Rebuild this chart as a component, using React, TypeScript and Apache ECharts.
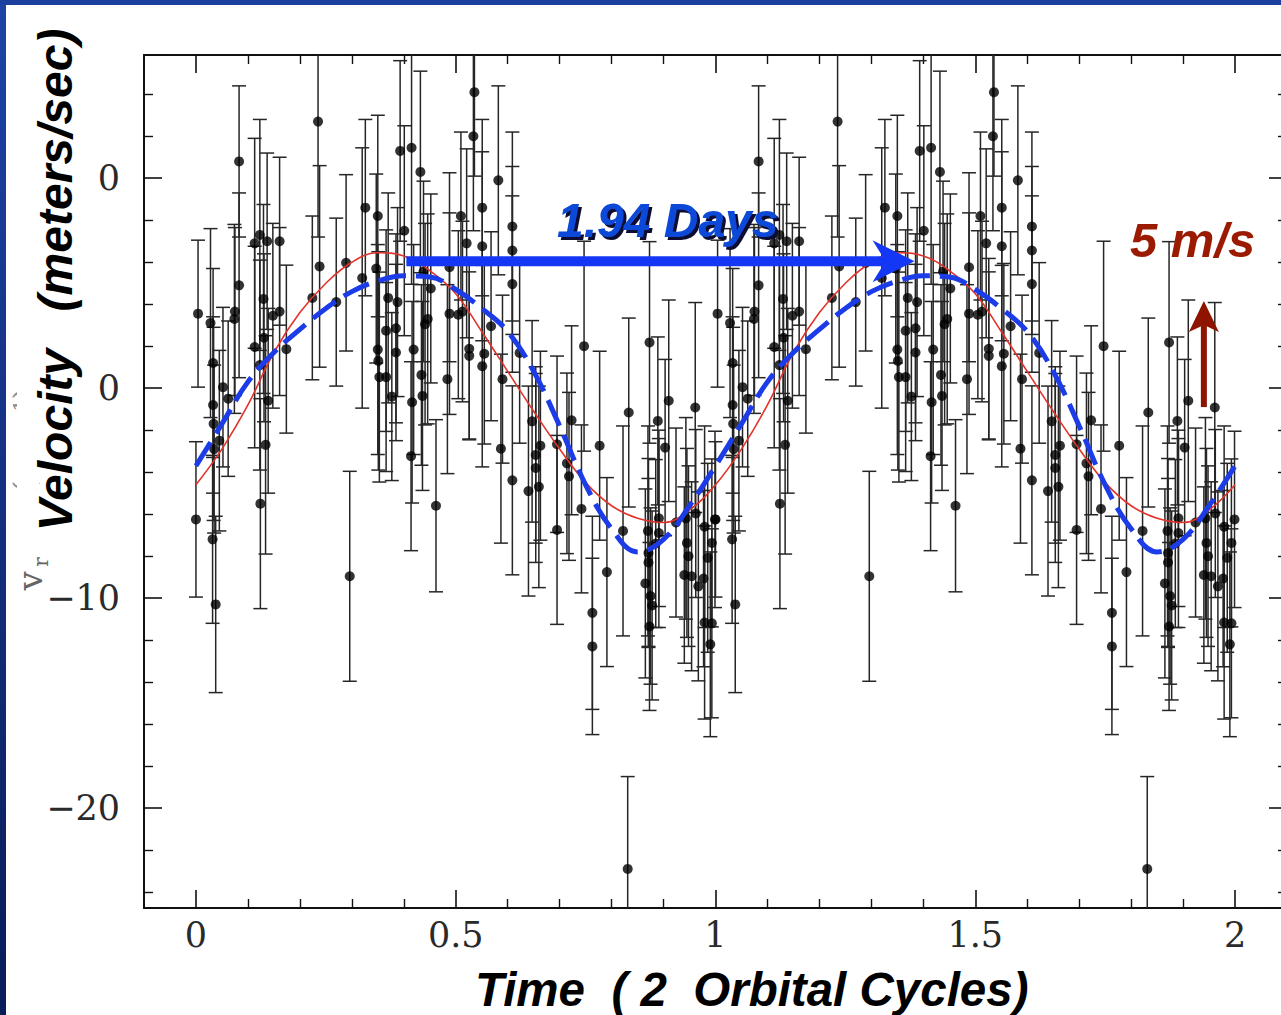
import React, { useEffect, useRef } from "react";
import * as echarts from "echarts";

// ---- axis ranges & tick labels ----
const X_MIN = -0.1;
const X_MAX = 2.1;
const Y_MIN = -24.76;
const Y_MAX = 15.87;
const xTickValues = [0, 0.5, 1, 1.5, 2];
const xTickLabels = ["0", "0.5", "1", "1.5", "2"];
const yTickValues = [-20, -10, 0, 10];
const yTickLabels = ["\u221220", "\u221210", "0", "0"];

// ---- phase-folded radial velocity measurements (one orbital cycle, plotted twice) ----
const cycles = [0, 1];
const phaseT = [
  0.0, 0.004, 0.028, 0.032, 0.033, 0.033, 0.034, 0.035, 0.038, 0.045, 0.052, 0.062, 0.074, 0.075, 0.083, 0.083,
  0.113, 0.113, 0.123, 0.123, 0.124, 0.13, 0.131, 0.134, 0.139, 0.137, 0.148, 0.161, 0.161, 0.174, 0.224, 0.235,
  0.238, 0.27, 0.289, 0.296, 0.32, 0.326, 0.347, 0.35, 0.35, 0.351, 0.353, 0.366, 0.366, 0.37, 0.377, 0.385,
  0.385, 0.388, 0.393, 0.401, 0.415, 0.419, 0.416, 0.414, 0.432, 0.434, 0.436, 0.441, 0.446, 0.452, 0.438, 0.462,
  0.484, 0.488, 0.488, 0.505, 0.51, 0.513, 0.521, 0.526, 0.526, 0.534, 0.536, 0.551, 0.551, 0.551, 0.555, 0.568,
  0.582, 0.587, 0.59, 0.609, 0.609, 0.609, 0.609, 0.623, 0.64, 0.647, 0.654, 0.654, 0.66, 0.663, 0.695, 0.695,
  0.714, 0.718, 0.723, 0.742, 0.747, 0.763, 0.763, 0.777, 0.791, 0.822, 0.831, 0.833, 0.865, 0.87, 0.871, 0.871,
  0.873, 0.873, 0.875, 0.878, 0.885, 0.889, 0.891, 0.891, 0.903, 0.91, 0.924, 0.94, 0.943, 0.945, 0.948, 0.954,
  0.961, 0.962, 0.967, 0.977, 0.979, 0.979, 0.985, 0.99, 0.993, 0.993, 0.999,
];
const phaseV = [
  -6.25, 3.55, 3.1, -7.2, 1.2, -0.8, -1.7, -2.9, -10.3, -2.5, 0.05, -0.5, 3.3, 3.65, 4.9, 10.8,
  6.9, 1.96, 7.3, 1.1, -5.5, 4.25, 2.4, -2.7, -0.6, 7.0, 3.45, 7.0, 3.65, 1.86, 4.3, 12.7,
  5.8, 4.1, 5.97, -8.96, 5.25, 8.6, 5.7, 8.2, 1.84, 1.3, 0.53, 0.53, 2.74, 4.3, -0.4, 2.85,
  1.7, 4.1, 11.3, 7.5, 11.45, 1.84, -0.67, -3.24, 10.3, 0.63, -0.37, 3.05, 3.3, 4.75, 5.56, -5.6,
  0.43, 3.55, 5.76, 3.5, 8.2, 3.65, 6.9, 1.54, 1.88, 12.0, 14.1, 8.6, 6.76, 1.05, 1.64, 2.95,
  9.9, -2.88, 0.43, 7.7, 6.56, 4.96, -4.39, 1.68, -4.9, -1.58, -3.18, -3.8, -4.7, -2.74, -6.75, -2.67,
  -3.58, -4.2, -1.53, -5.75, 2.0, -10.7, -12.3, -2.74, -8.76, -6.8, -22.9, -1.16, -9.3, -6.8, -7.85, -8.3,
  2.18, -11.35, -9.9, -10.35, -7.4, -1.56, -6.9, -6.2, -2.83, -0.6, -6.4, -8.9, -6.2, -7.37, -8.0, -8.96,
  -0.92, -5.97, -9.44, -9.07, -6.6, -11.16, -8.08, -12.2, -7.37, -11.2, -6.25,
];
const phaseErr = [
  3.7, 3.5, 4.5, 4.0, 4.5, 4.2, 4.6, 4.0, 4.2, 4.3, 3.8, 3.7, 4.5, 4.0, 4.4, 3.6,
  5.0, 4.8, 5.5, 5.0, 5.0, 4.5, 4.0, 5.2, 4.4, 4.2, 4.4, 4.0, 4.0, 4.0, 3.9, 5.5,
  4.8, 4.0, 4.2, 5.0, 6.2, 4.2, 4.5, 4.8, 5.0, 5.2, 5.0, 4.5, 4.8, 5.0, 4.0, 4.5,
  4.2, 4.5, 4.3, 5.0, 6.5, 5.0, 4.8, 4.5, 4.8, 4.3, 4.5, 4.8, 5.0, 4.5, 4.3, 4.1,
  4.5, 4.8, 4.5, 4.0, 4.0, 4.3, 4.5, 4.0, 4.3, 4.5, 4.0, 4.2, 4.5, 4.8, 4.3, 4.5,
  4.5, 4.5, 4.0, 4.5, 4.0, 4.2, 4.5, 4.3, 5.0, 4.8, 4.2, 4.5, 4.8, 4.5, 4.5, 4.2,
  4.3, 4.0, 4.5, 4.0, 5.0, 4.6, 4.2, 4.5, 4.5, 5.0, 4.4, 4.5, 4.5, 5.0, 4.5, 4.0,
  4.8, 4.0, 4.2, 4.5, 4.0, 4.0, 4.5, 4.2, 4.2, 4.8, 4.5, 4.2, 4.8, 4.5, 4.3, 4.5,
  5.0, 4.0, 4.5, 4.2, 4.8, 4.6, 4.5, 4.4, 4.0, 4.5, 4.2,
];

// ---- model curves (one cycle) ----
const curveT = [0, 0.05, 0.1, 0.15, 0.2, 0.25, 0.3, 0.35, 0.4, 0.45, 0.5, 0.55, 0.6, 0.65, 0.7, 0.75, 0.8, 0.85, 0.9, 0.95, 1.0];
const redFit = [-4.6, -2.9, -0.8, 1.7, 3.6, 5.0, 6.0, 6.45, 6.3, 5.6, 4.5, 2.7, 0.8, -1.1, -2.9, -4.5, -5.6, -6.2, -6.4, -5.8, -4.6];
const blueFit = [-3.7, -1.7, 0.3, 1.7, 2.8, 3.8, 4.6, 5.1, 5.35, 5.3, 4.7, 3.8, 2.7, 0.8, -1.8, -4.6, -6.7, -7.8, -7.2, -5.6, -3.7];

// ---- annotations (data coordinates) ----
const periodArrow = { t0: 0.405, t1: 1.383, v: 6.05, label: "1.94 Days" };
const scaleArrow = { t: 1.94, v0: -0.9, v1: 4.15, label: "5 m/s" };

const fmt = (vals: number[], labels: string[]) => (v: number) => {
  const i = vals.findIndex((x) => Math.abs(x - v) < 1e-6);
  return i >= 0 ? labels[i] : "";
};

export default function App() {
  const ref = useRef<HTMLDivElement>(null);
  useEffect(() => {
    const chart = echarts.init(ref.current!, null, { renderer: "svg" });

    const points: number[][] = [];
    cycles.forEach((c) => {
      phaseT.forEach((t, i) => points.push([t + c, phaseV[i], phaseErr[i]]));
    });
    const curve = (fit: number[]) => {
      const out: number[][] = [];
      cycles.forEach((c) => {
        curveT.forEach((t, i) => {
          if (c > 0 && i === 0) return;
          out.push([t + c, fit[i]]);
        });
      });
      return out;
    };

    const axisCommon: any = {
      type: "value",
      splitLine: { show: false },
      minorSplitLine: { show: false },
      axisLine: { show: true, onZero: false, lineStyle: { color: "#111", width: 2 } },
      axisTick: { show: true, inside: true, length: 18, lineStyle: { color: "#111", width: 1.6 } },
      minorTick: { show: true, splitNumber: 5, length: 9, lineStyle: { color: "#111", width: 1.4 } },
    };
    const xCommon = { ...axisCommon, min: X_MIN, max: X_MAX, minInterval: 0.5, maxInterval: 0.5, splitNumber: 4 };
    const yCommon = { ...axisCommon, min: Y_MIN, max: Y_MAX, minInterval: 10, maxInterval: 10, splitNumber: 4 };
    const labelStyle = { fontFamily: "DejaVu Serif", fontSize: 35, color: "#2a2a2a" };

    const option: any = {
      animation: false,
      backgroundColor: "#ffffff",
      grid: { left: 144, top: 55, right: 0, bottom: 107, containLabel: false },
      xAxis: [
        { ...xCommon, position: "bottom", axisLabel: { ...labelStyle, margin: 9, formatter: fmt(xTickValues, xTickLabels) } },
        { ...xCommon, position: "top", axisLabel: { show: false } },
      ],
      yAxis: [
        { ...yCommon, position: "left", axisLabel: { ...labelStyle, margin: 24, formatter: fmt(yTickValues, yTickLabels) } },
        { ...yCommon, position: "right", axisLabel: { show: false } },
      ],
      series: [
        {
          type: "custom",
          xAxisIndex: 0,
          yAxisIndex: 0,
          data: points,
          encode: { x: 0, y: 1 },
          renderItem: (params: any, api: any) => {
            const x = api.value(0);
            const y = api.value(1);
            const e = api.value(2);
            const hiV = Math.min(y + e, Y_MAX);
            const loV = Math.max(y - e, Y_MIN);
            const top = api.coord([x, hiV]);
            const bot = api.coord([x, loV]);
            const st = { stroke: "#262626", lineWidth: 1.5 };
            const hw = 7;
            const children: any[] = [
              { type: "line", shape: { x1: top[0], y1: top[1], x2: bot[0], y2: bot[1] }, style: st },
            ];
            if (y + e < Y_MAX)
              children.push({ type: "line", shape: { x1: top[0] - hw, y1: top[1], x2: top[0] + hw, y2: top[1] }, style: st });
            if (y - e > Y_MIN)
              children.push({ type: "line", shape: { x1: bot[0] - hw, y1: bot[1], x2: bot[0] + hw, y2: bot[1] }, style: st });
            return { type: "group", children };
          },
          z: 2,
        },
        {
          type: "scatter",
          data: points.map((p) => [p[0], p[1]]),
          symbol: "circle",
          symbolSize: 10,
          itemStyle: { color: "#000" },
          z: 3,
        },
        {
          type: "line",
          data: curve(redFit),
          smooth: 0.4,
          showSymbol: false,
          lineStyle: { color: "#e2332b", width: 1.6 },
          z: 4,
        },
        {
          type: "line",
          data: curve(blueFit),
          smooth: 0.4,
          showSymbol: false,
          lineStyle: { color: "#1c3ce8", width: 5, type: [28, 10] },
          z: 5,
        },
      ],
    };
    chart.setOption(option);

    const px = (t: number, v: number) => chart.convertToPixel({ xAxisIndex: 0, yAxisIndex: 0 }, [t, v]) as number[];
    const a0 = px(periodArrow.t0, periodArrow.v);
    const a1 = px(periodArrow.t1, periodArrow.v);
    const r0 = px(scaleArrow.t, scaleArrow.v0);
    const r1 = px(scaleArrow.t, scaleArrow.v1);
    const blue = "#1437f6";
    const dred = "#8e1400";
    const boldItalic = { fontFamily: "Liberation Sans, Arial, sans-serif", fontWeight: "bold", fontStyle: "italic" };

    const graphics: any[] = [
      // faint original axis label remnants
      { type: "text", x: 24, y: 440, rotation: Math.PI / 2, z: 90,
        style: { text: "(m s\u207B\u00B9)", fontFamily: "DejaVu Serif", fontSize: 30, fill: "#8a8a8a", align: "center", verticalAlign: "middle" } },
      { type: "rect", z: 91, shape: { x: 17, y: 340, width: 22, height: 200 }, style: { fill: "#fff" } },
      { type: "text", x: 30, y: 581, rotation: Math.PI / 2, z: 91,
        style: { text: "v", fontFamily: "DejaVu Serif", fontSize: 34, fill: "#666", align: "center", verticalAlign: "middle" } },
      { type: "text", x: 41, y: 562, rotation: Math.PI / 2, z: 91,
        style: { text: "r", fontFamily: "DejaVu Serif", fontSize: 20, fill: "#666", align: "center", verticalAlign: "middle" } },
      // axis titles
      { type: "text", x: 55, y: 170, rotation: Math.PI / 2, z: 95,
        style: { ...boldItalic, text: "(meters/sec)", fontSize: 48, fill: "#000", align: "center", verticalAlign: "middle" } },
      { type: "text", x: 55, y: 440, rotation: Math.PI / 2, z: 95,
        style: { ...boldItalic, text: "Velocity", fontSize: 48, fill: "#000", align: "center", verticalAlign: "middle" } },
      { type: "text", x: 475, y: 989, z: 95,
        style: { ...boldItalic, text: "Time  ( 2  Orbital Cycles)", fontSize: 47.5, fill: "#000", align: "left", verticalAlign: "middle" } },
      // period arrow
      { type: "line", z: 100, shape: { x1: a0[0], y1: a0[1], x2: a1[0] - 28, y2: a1[1] }, style: { stroke: blue, lineWidth: 10 } },
      { type: "polygon", z: 101,
        shape: { points: [[a1[0], a1[1]], [a1[0] - 42, a1[1] - 21], [a1[0] - 29, a1[1]], [a1[0] - 42, a1[1] + 21]] },
        style: { fill: blue } },
      { type: "text", x: 557, y: 220, z: 102,
        style: { ...boldItalic, text: periodArrow.label, fontSize: 48, fill: "#0a48d8", align: "left", verticalAlign: "middle",
          textShadowColor: "#0a0a30", textShadowOffsetX: 3, textShadowOffsetY: 3, textShadowBlur: 1,
          shadowColor: "#0a0a30", shadowOffsetX: 3, shadowOffsetY: 3, shadowBlur: 1 } },
      // 5 m/s scale arrow
      { type: "line", z: 100, shape: { x1: r0[0], y1: r0[1], x2: r1[0], y2: r1[1] + 24 }, style: { stroke: dred, lineWidth: 6 } },
      { type: "polygon", z: 101,
        shape: { points: [[r1[0], r1[1]], [r1[0] - 15, r1[1] + 31], [r1[0], r1[1] + 24], [r1[0] + 15, r1[1] + 31]] },
        style: { fill: dred } },
      { type: "text", x: 1130, y: 240, z: 101,
        style: { ...boldItalic, text: scaleArrow.label, fontSize: 49, fill: "#9a1a02", align: "left", verticalAlign: "middle" } },
      // slide frame
      { type: "rect", z: 110, shape: { x: 0, y: 0, width: 6, height: 1015 },
        style: { fill: new echarts.graphic.LinearGradient(0, 0, 0, 1, [{ offset: 0, color: "#1d43a6" }, { offset: 1, color: "#0a1c58" }]) } },
      { type: "rect", z: 110, shape: { x: 0, y: 0, width: 1290, height: 5 }, style: { fill: "#1a3f9f" } },
    ];
    chart.setOption({ graphic: { elements: graphics } });

    return () => chart.dispose();
  }, []);
  return (
    <div style={{ position: "fixed", left: 0, top: 0, width: 1281, height: 1015, overflow: "hidden" }}>
      <div ref={ref} style={{ position: "absolute", left: 0, top: 0, width: 1290, height: 1015 }} />
    </div>
  );
}
